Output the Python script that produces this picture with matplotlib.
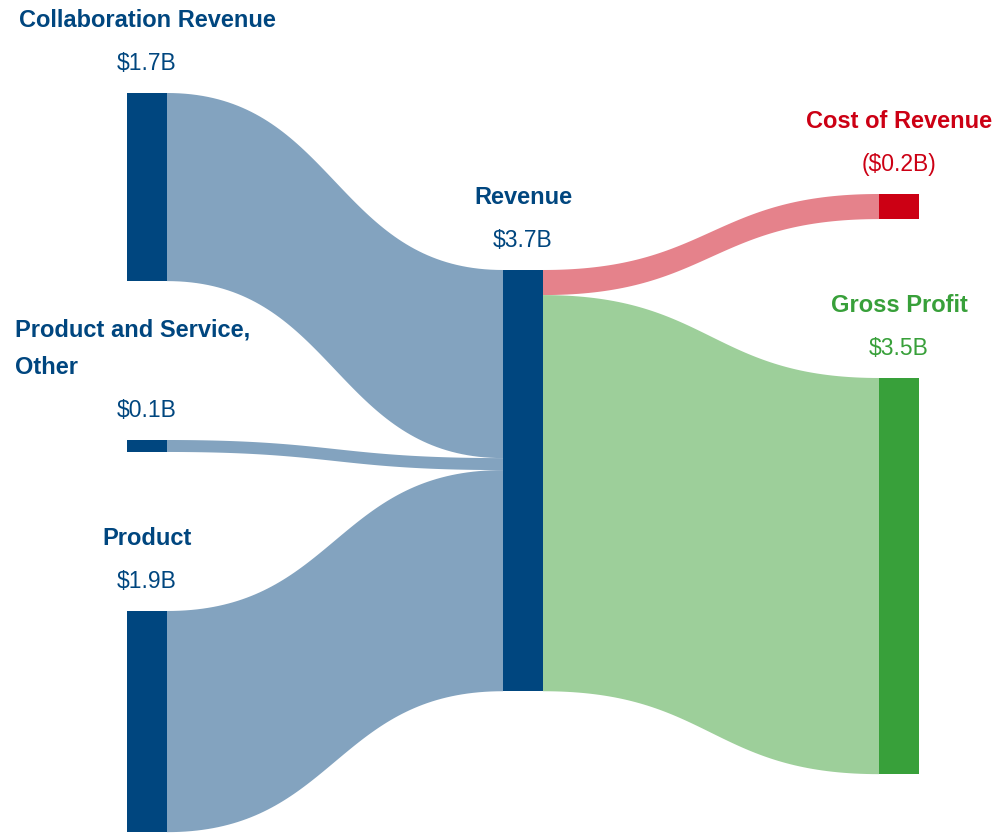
import matplotlib
matplotlib.use('Agg')
import matplotlib.pyplot as plt
from matplotlib.patches import Rectangle, Polygon
import numpy as np

# Data (billions USD)
node_names = ["Collaboration Revenue", "Product and Service,\nOther", "Product",
              "Revenue", "Cost of Revenue", "Gross Profit"]
node_values = [1.65, 0.105, 1.94, 3.695, 0.22, 3.475]
node_labels = ["$1.7B", "$0.1B", "$1.9B", "$3.7B", "($0.2B)", "$3.5B"]
node_column = [0, 0, 0, 1, 2, 2]

link_source = [0, 1, 2, 3, 3]
link_target = [3, 3, 3, 4, 5]
link_values = [1.65, 0.105, 1.94, 0.22, 3.475]

# Colours
c_blue = '#00467F'
c_blue_link = '#83A3BF'
c_red = '#CC0014'
c_red_link = '#E5828B'
c_green = '#38A03A'
c_green_link = '#9DCF9A'
node_colors = [c_blue, c_blue, c_blue, c_blue, c_red, c_green]
link_colors = [c_blue_link, c_blue_link, c_blue_link, c_red_link, c_green_link]

# Layout (pixels)
col_x = [127, 503, 879]
node_w = 40
px_per_b = 114
node_top = [93, 440, 611, 270, 194, 378]

plt.rcParams['font.family'] = ['Liberation Sans', 'DejaVu Sans']

fig = plt.figure(figsize=(9.97, 8.35), dpi=100)
ax = fig.add_axes([0, 0, 1, 1])
ax.set_xlim(0, 997)
ax.set_ylim(835, 0)
ax.axis('off')

# nodes
out_off = [0.0] * len(node_names)
in_off = [0.0] * len(node_names)
for i, v in enumerate(node_values):
    x = col_x[node_column[i]]
    ax.add_patch(Rectangle((x, node_top[i]), node_w, v * px_per_b,
                           color=node_colors[i], lw=0, zorder=3))

# links as cubic bezier bands
t = np.linspace(0, 1, 80)
for s, d, v, c in zip(link_source, link_target, link_values, link_colors):
    h = v * px_per_b
    x0 = col_x[node_column[s]] + node_w
    x1 = col_x[node_column[d]]
    y0 = node_top[s] + out_off[s]
    y1 = node_top[d] + in_off[d]
    out_off[s] += h
    in_off[d] += h
    xm = (x0 + x1) / 2
    bx = (1 - t)**3 * x0 + 3 * (1 - t)**2 * t * xm + 3 * (1 - t) * t**2 * xm + t**3 * x1
    by = (1 - t)**3 * y0 + 3 * (1 - t)**2 * t * y0 + 3 * (1 - t) * t**2 * y1 + t**3 * y1
    top = np.column_stack([bx, by])
    bot = np.column_stack([bx[::-1], by[::-1] + h])
    ax.add_patch(Polygon(np.vstack([top, bot]), closed=True, color=c, lw=0, zorder=2))

# labels
for i, name in enumerate(node_names):
    cx = col_x[node_column[i]] + node_w / 2
    tc = node_colors[i]
    ax.text(cx, node_top[i] - 23, node_labels[i], ha='center', va='baseline',
            fontsize=16.5, color=tc)
    lines = name.split('\n')
    for k, line in enumerate(reversed(lines)):
        yb = node_top[i] - 66 - 37 * k
        if len(lines) > 1:
            ax.text(15, yb, line, ha='left', va='baseline', fontsize=17,
                    fontweight='bold', color=tc)
        else:
            ax.text(cx, yb, line, ha='center', va='baseline', fontsize=17,
                    fontweight='bold', color=tc)

fig.savefig('out.png', dpi=100, facecolor='white')
plt.close(fig)
